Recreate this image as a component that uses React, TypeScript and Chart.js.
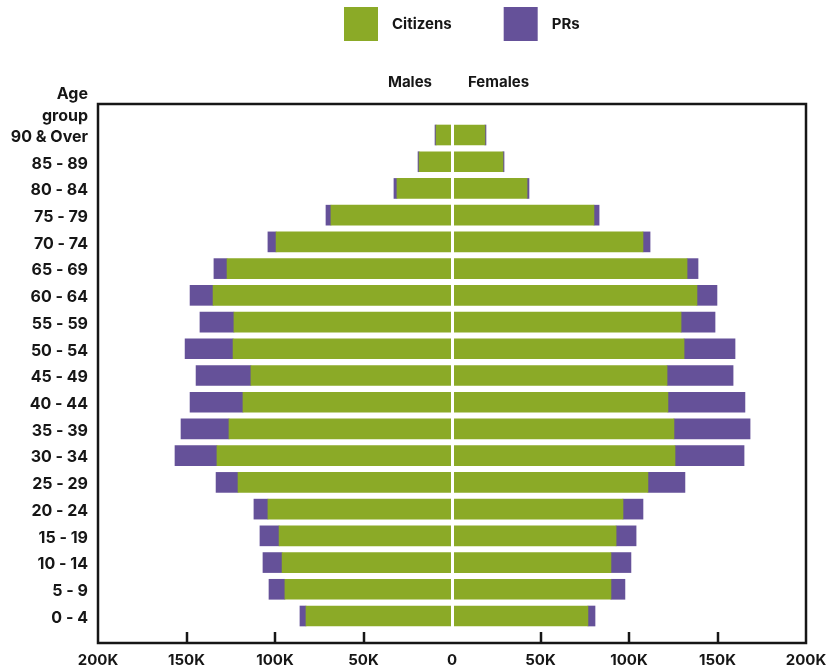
import { useEffect, useRef } from "react";
import { Chart, registerables } from "chart.js";

Chart.register(...registerables);

// Age groups, oldest first (top of the pyramid)
const ageGroups = [
  "90 & Over", "85 - 89", "80 - 84", "75 - 79", "70 - 74", "65 - 69",
  "60 - 64", "55 - 59", "50 - 54", "45 - 49", "40 - 44", "35 - 39",
  "30 - 34", "25 - 29", "20 - 24", "15 - 19", "10 - 14", "5 - 9", "0 - 4",
];

// Population in thousands
const maleCitizens = [
  9.0, 18.6, 31.1, 68.4, 99.4, 127.1, 135.0, 123.2, 123.7, 113.6,
  118.1, 126.0, 132.8, 120.9, 104.0, 97.7, 96.0, 94.4, 82.5,
];
const malePRs = [
  0.6, 0.6, 1.7, 2.8, 4.6, 7.4, 13.0, 19.2, 27.1, 31.0,
  29.9, 27.1, 23.7, 12.4, 7.9, 10.8, 10.8, 9.0, 3.4,
];
const femaleCitizens = [
  18.6, 28.8, 42.4, 80.2, 107.9, 132.8, 138.4, 129.4, 131.1, 121.5,
  122.0, 125.4, 126.0, 110.7, 96.6, 92.7, 89.8, 89.8, 76.8,
];
const femalePRs = [
  0.6, 0.6, 1.1, 2.9, 4.0, 6.2, 11.3, 19.2, 28.8, 37.3,
  43.5, 43.0, 39.0, 20.9, 11.3, 11.3, 11.3, 7.9, 4.0,
];

const seriesNames = ["Citizens", "PRs"];
const sideNames = ["Males", "Females"];
const axisTitle = ["Age", "group"];

const GREEN = "#8BAA27";
const PURPLE = "#655199";
const INK = "#161616";
const FONT = "Inter, 'Open Sans', 'Noto Sans', sans-serif";

const toPoints = (values: number[], sign: number) =>
  values.map((v, i) => ({ x: sign * v, y: i }));

const fmtK = (v: number) => (v === 0 ? "0" : `${Math.abs(v)}K`);

// Frame, inward tick marks, split line at zero, legend and side labels
const decorations = {
  id: "pyramidDecorations",
  afterDatasetsDraw(chart: any) {
    const { ctx, chartArea } = chart;
    const { left, right, top, bottom } = chartArea;
    const xScale = chart.scales.x;
    const zero = xScale.getPixelForValue(0);

    ctx.save();
    // white separator between male and female bars
    ctx.fillStyle = "#ffffff";
    ctx.fillRect(zero - 1, top, 3, bottom - top);

    // frame
    ctx.strokeStyle = INK;
    ctx.lineWidth = 2.5;
    ctx.strokeRect(left, top, right - left, bottom - top);

    // inward ticks on the bottom edge
    xScale.ticks.forEach((t: any) => {
      if (t.value === 0 || t.value === xScale.min || t.value === xScale.max) return;
      const px = Math.round(xScale.getPixelForValue(t.value));
      ctx.beginPath();
      ctx.moveTo(px, bottom);
      ctx.lineTo(px, bottom - 11);
      ctx.stroke();
    });
    ctx.restore();
  },
  afterDraw(chart: any) {
    const { ctx, chartArea } = chart;
    const { left, top } = chartArea;
    const zero = chart.scales.x.getPixelForValue(0);

    ctx.save();
    ctx.fillStyle = INK;
    ctx.textBaseline = "middle";

    // "Males" / "Females" above the plot
    ctx.font = `700 15px ${FONT}`;
    ctx.textAlign = "right";
    ctx.fillText(sideNames[0], zero - 20, top - 22);
    ctx.textAlign = "left";
    ctx.fillText(sideNames[1], zero + 16, top - 22);

    // y-axis title, stacked above the first category
    ctx.font = `700 16px ${FONT}`;
    ctx.textAlign = "right";
    ctx.fillText(axisTitle[0], left - 10, top - 10);
    ctx.fillText(axisTitle[1], left - 10, top + 12);

    // legend
    const box = 34;
    let x = 344;
    const y = 7;
    ctx.font = `700 15px ${FONT}`;
    ctx.textAlign = "left";
    seriesNames.forEach((name, i) => {
      ctx.fillStyle = chart.data.datasets[i].backgroundColor;
      ctx.fillRect(x, y, box, box);
      ctx.fillStyle = INK;
      ctx.fillText(name, x + box + 14, y + box / 2);
      x += box + 14 + ctx.measureText(name).width + 52;
    });
    ctx.restore();
  },
};

export default function App() {
  const canvasRef = useRef<HTMLCanvasElement | null>(null);

  useEffect(() => {
    const canvas = canvasRef.current;
    if (!canvas) return;

    Chart.defaults.font.family = FONT;
    Chart.defaults.color = INK;

    const chart = new Chart(canvas, {
      type: "bar",
      data: {
        datasets: [
          { label: seriesNames[0], data: toPoints(maleCitizens, -1), backgroundColor: GREEN },
          { label: seriesNames[1], data: toPoints(malePRs, -1), backgroundColor: PURPLE },
          { label: seriesNames[0], data: toPoints(femaleCitizens, 1), backgroundColor: GREEN },
          { label: seriesNames[1], data: toPoints(femalePRs, 1), backgroundColor: PURPLE },
        ],
      },
      options: {
        indexAxis: "y",
        responsive: false,
        animation: false,
        events: [],
        datasets: {
          bar: { barThickness: 20, borderWidth: 0 },
        },
        layout: { padding: { top: 104, left: 0, right: 23, bottom: 0 } },
        plugins: {
          legend: { display: false },
          tooltip: { enabled: false },
          title: { display: false },
        },
        scales: {
          x: {
            type: "linear",
            stacked: true,
            min: -200,
            max: 200,
            offset: false,
            grid: { display: false, drawTicks: false },
            border: { display: false },
            ticks: {
              stepSize: 50,
              padding: 8,
              color: INK,
              font: { size: 15, weight: 700 },
              callback: (v: any) => fmtK(Number(v)),
            },
            afterFit: (s: any) => {
              s.height = 25;
              s.paddingLeft = 0;
              s.paddingRight = 0;
            },
          },
          y: {
            type: "linear",
            stacked: true,
            reverse: true,
            offset: false,
            min: -1.16,
            max: 19.01,
            grid: { display: false, drawTicks: false, offset: false },
            border: { display: false },
            afterBuildTicks: (s: any) => {
              s.ticks = ageGroups.map((_, i) => ({ value: i }));
            },
            ticks: {
              autoSkip: false,
              padding: 10,
              labelOffset: 2,
              color: INK,
              font: { size: 16, weight: 700 },
              callback: (v: any) => ageGroups[Number(v)] ?? "",
            },
            afterFit: (s: any) => {
              s.width = 98;
              s.paddingTop = 0;
              s.paddingBottom = 0;
            },
          },
        },
      },
      plugins: [decorations],
    });

    return () => chart.destroy();
  }, []);

  return (
    <div style={{ position: "fixed", left: 0, top: 0, width: 829, height: 668, background: "#fff" }}>
      <canvas ref={canvasRef} width={829} height={668} style={{ display: "block" }} />
    </div>
  );
}
